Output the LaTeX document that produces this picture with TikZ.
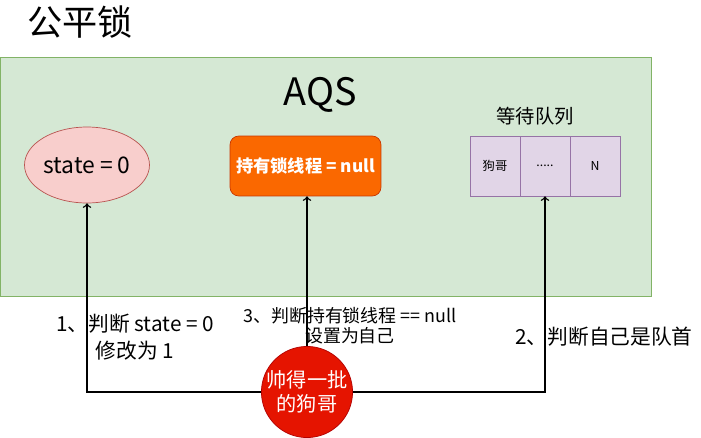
\documentclass[tikz,border=0pt]{standalone}
\usepackage{fontspec}
\setmainfont{Noto Sans CJK SC}
\usetikzlibrary{shapes.geometric}
\definecolor{aqsgreen}{HTML}{D5E8D4}
\definecolor{aqsgreenline}{HTML}{82B366}
\definecolor{statered}{HTML}{F8CECC}
\definecolor{stateredline}{HTML}{B85450}
\definecolor{holdorange}{HTML}{FA6800}
\definecolor{holdorangeline}{HTML}{C73500}
\definecolor{queuepurple}{HTML}{E1D5E7}
\definecolor{queuepurpleline}{HTML}{9673A6}
\definecolor{herored}{HTML}{E51400}
\definecolor{heroredline}{HTML}{B20000}
\tikzset{gbox/.style={
    rectangle,
    draw,
    align=center,
    inner sep=0pt
  },
  statebox/.style={ellipse,draw=stateredline,fill=statered,
    minimum width=2.5cm,minimum height=1.52cm,inner sep=0pt,font=\fontsize{13}{15}\selectfont},
  holdbox/.style={gbox,rounded corners=5pt,draw=holdorangeline,fill=holdorange,text=white,
    minimum width=3.02cm,minimum height=1.2cm,font=\fontsize{9.8}{11}\selectfont\bfseries},
  qbox/.style={gbox,draw=queuepurpleline,fill=queuepurple,
    minimum width=1cm,minimum height=1.2cm,font=\fontsize{7}{8}\selectfont},
  herobox/.style={circle,draw=heroredline,fill=herored,text=white,align=center,
    minimum size=1.54cm,inner sep=0pt,font=\fontsize{11.5}{13.5}\selectfont},
  notebox/.style={align=center,font=\fontsize{11.8}{15.3}\selectfont},
}
\begin{document}
\begin{tikzpicture}[x=0.02cm,y=-0.02cm]
  \useasboundingbox (0,0) rectangle (701,437);
  \node [font=\fontsize{20}{22}\selectfont] (title) at (80,22) {公平锁};
  \node [gbox,draw=aqsgreenline,fill=aqsgreen,minimum width=13.02cm,minimum height=4.78cm,anchor=north west] (aqs) at (0,57) {};
  \node [font=\fontsize{21.5}{24}\selectfont] (aqsname) at (320,95) {AQS};
  \node [statebox] (state) at (87,165) {state = 0};
  \node [holdbox] (holder) at (305.5,166) {持有锁线程 = null};
  \node [font=\fontsize{11}{13}\selectfont] (qname) at (535,116) {等待队列};
  \node [qbox] (q1) at (495,166) {狗哥};
  \node [qbox] (q2) at (545,166) {.....};
  \node [qbox] (q3) at (595,166) {N};
  \node [herobox] (hero) at (307,392) {帅得一批\\的狗哥};
  \node [notebox] (step1) at (135,337) {1、判断 state = 0\\修改为 1};
  \node [notebox,font=\fontsize{10.2}{11.3}\selectfont] (step3) at (350,326) {3、判断持有锁线程 == null\\设置为自己};
  \node [notebox] (step2) at (604,337) {2、判断自己是队首};
  \draw[thick,->] (hero.west) -| (state.south);
  \draw[thick,->] (hero.north) -- (holder.south -| hero.north);
  \draw[thick,->] (hero.east) -| (q2.south);
\end{tikzpicture}
\end{document}
